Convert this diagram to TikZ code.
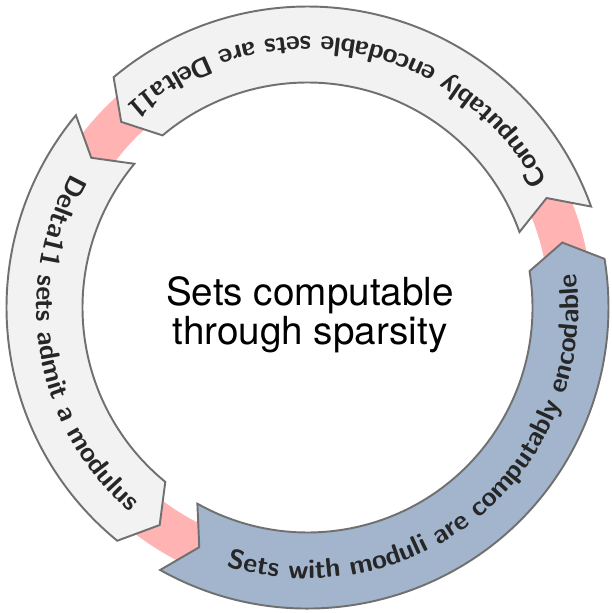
\documentclass[tikz,border=0pt]{standalone}
\usepackage{fontspec}
\newfontfamily\heros{TeX Gyre Heros}
\usetikzlibrary{decorations.text}

\definecolor{anillo}{RGB}{255,179,179}
\definecolor{flechagris}{RGB}{242,242,242}
\definecolor{flechaazul}{RGB}{162,181,205}
\definecolor{borde}{RGB}{112,112,112}
\newcommand\rotfont{\sffamily\bfseries\fontsize{15.4}{16}\selectfont}

\begin{document}
\begin{tikzpicture}[line width=1.1pt,
    flecha/.style={draw=borde,line join=miter},
    rotulo/.style={decorate,decoration={text along path,text align=center,text color=black!85}}]
  \useasboundingbox (-6.15,-6.11) rectangle (6.09,6.15);
  % anillo de fondo
  \draw[anillo,line width=0.86cm] (0,0) circle(5.26);
  % flechas circulares (cola con muesca, punta en chevron)
  \foreach \a/\b/\col in {19.6/130.1/flechagris,140.3/230.8/flechagris,240.7/369.3/flechaazul}
    \draw[flecha,fill=\col] (\a:6.02) arc[start angle=\a,end angle=\b,radius=6.02]
      -- (\b+5:5.26) -- (\b:4.5) arc[start angle=\b,end angle=\a,radius=4.5]
      -- (\a+5:5.26) -- cycle;
  % textos sobre las flechas
  \path[rotulo,decoration={text={|\rotfont|Computably encodable sets are Delta11}}]
    (9.9:5.42) arc[start angle=9.9,end angle=149.9,radius=5.42];
  \path[rotulo,decoration={text={|\rotfont|Delta11 sets admit a modulus}}]
    (119.7:5.42) arc[start angle=119.7,end angle=259.7,radius=5.42];
  \path[rotulo,decoration={text={|\rotfont|Sets with moduli are computably encodable}}]
    (239.9:5.42) arc[start angle=239.9,end angle=379.9,radius=5.42];
  % texto central
  \node[font=\heros\fontsize{22}{22}\selectfont,align=center] (nucleo) at (0.05,-0.14)
    {Sets computable\\through sparsity};
\end{tikzpicture}
\end{document}
